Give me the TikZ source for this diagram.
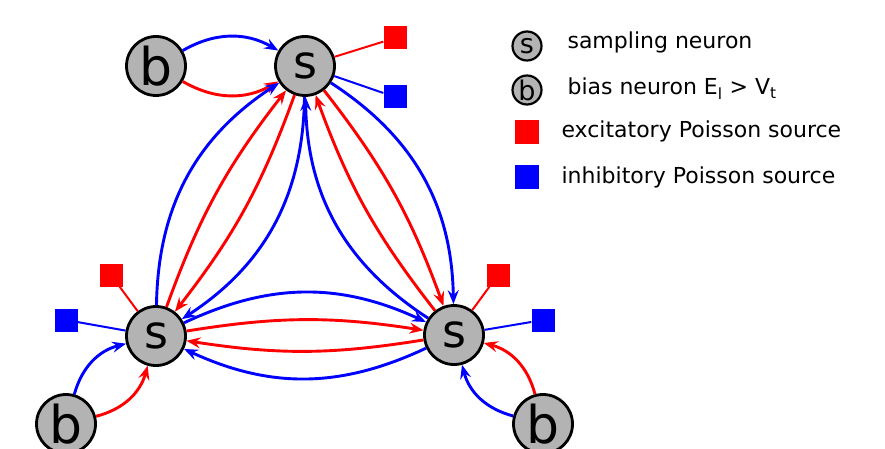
\documentclass[tikz,border=0pt]{standalone}
\usepackage{fontspec}
\setmainfont{DejaVu Sans}
\usetikzlibrary{arrows.meta}
\definecolor{pred}{RGB}{255,0,0}
\definecolor{pblue}{RGB}{0,0,255}
\definecolor{ngray}{RGB}{179,179,179}
\tikzset{
  neuron/.style={circle, draw=black, line width=2.8pt, fill=ngray, minimum size=59pt, inner sep=0pt},
  sfont/.style={font=\fontsize{46}{46}\selectfont},
  bfont/.style={font=\fontsize{52}{52}\selectfont},
  lneuron/.style={circle, draw=black, line width=2.2pt, fill=ngray, minimum size=29pt, inner sep=0pt, font=\fontsize{27}{27}\selectfont},
  psq/.style={rectangle, minimum size=23pt, inner sep=0pt},
  lsq/.style={rectangle, minimum size=24pt, inner sep=0pt},
  syn/.style={line width=2.9pt, -{Stealth[length=14pt,width=11pt,inset=5pt]}},
  pline/.style={line width=2pt},
  ltext/.style={anchor=base west, font=\fontsize{22}{22}\selectfont},
}
\begin{document}
\begin{tikzpicture}[x=1pt,y=1pt]
\useasboundingbox (0,0) rectangle (885,-449);
% neurons
\node[neuron,sfont] (sT) at (305,-66) {s};
\node[neuron,bfont] (bT) at (156,-66) {b};
\node[neuron,sfont] (sL) at (156,-336) {s};
\node[neuron,bfont] (bL) at (66,-424) {b};
\node[neuron,sfont] (sR) at (454,-335) {s};
\node[neuron,bfont] (bR) at (543,-424) {b};
% Poisson sources
\node[psq,fill=pred] (rT) at (395,-38) {};
\node[psq,fill=pblue] (uT) at (395,-97) {};
\node[psq,fill=pred] (rL) at (111,-275) {};
\node[psq,fill=pblue] (uL) at (66,-320) {};
\node[psq,fill=pred] (rR) at (498,-275) {};
\node[psq,fill=pblue] (uR) at (543,-320) {};
\draw[pline,pred] (sT) -- (rT);
\draw[pline,pblue] (sT) -- (uT);
\draw[pline,pred] (sL) -- (rL);
\draw[pline,pblue] (sL) -- (uL);
\draw[pline,pred] (sR) -- (rR);
\draw[pline,pblue] (sR) -- (uR);
% bias connections
\draw[syn,pblue] (bT) to[bend left=30] (sT);
\draw[syn,pred] (bT) to[bend right=30] (sT);
\draw[syn,pblue] (bL) to[bend left=30] (sL);
\draw[syn,pred] (bL) to[bend right=30] (sL);
\draw[syn,pblue] (bR) to[bend left=30] (sR);
\draw[syn,pred] (bR) to[bend right=30] (sR);
% left side
\draw[syn,pblue] (sL) to[bend left=28] (sT);
\draw[syn,pred] (sL) to[bend left=9] (sT);
\draw[syn,pred] (sT) to[bend left=9] (sL);
\draw[syn,pblue] (sT) to[bend left=28] (sL);
% right side
\draw[syn,pblue] (sT) to[bend left=28] (sR);
\draw[syn,pred] (sT) to[bend left=9] (sR);
\draw[syn,pred] (sR) to[bend left=9] (sT);
\draw[syn,pblue] (sR) to[bend left=28] (sT);
% bottom
\draw[syn,pblue] (sL) to[bend left=25] (sR);
\draw[syn,pred] (sL) to[bend left=9] (sR);
\draw[syn,pred] (sR) to[bend left=9] (sL);
\draw[syn,pblue] (sR) to[bend left=25] (sL);
% legend
\node[lneuron] (ls) at (527,-46) {s};
\node[lneuron] (lb) at (527,-90) {b};
\node[lsq,fill=pred] (lr) at (527,-132) {};
\node[lsq,fill=pblue] (lu) at (527,-177) {};
\node[ltext] (t1) at (564,-49) {sampling neuron};
\node[ltext] (t2) at (564,-95) {bias neuron E\textsubscript{l} > V\textsubscript{t}};
\node[ltext] (t3) at (558,-138) {excitatory Poisson source};
\node[ltext] (t4) at (558,-183) {inhibitory Poisson source};
\end{tikzpicture}
\end{document}
